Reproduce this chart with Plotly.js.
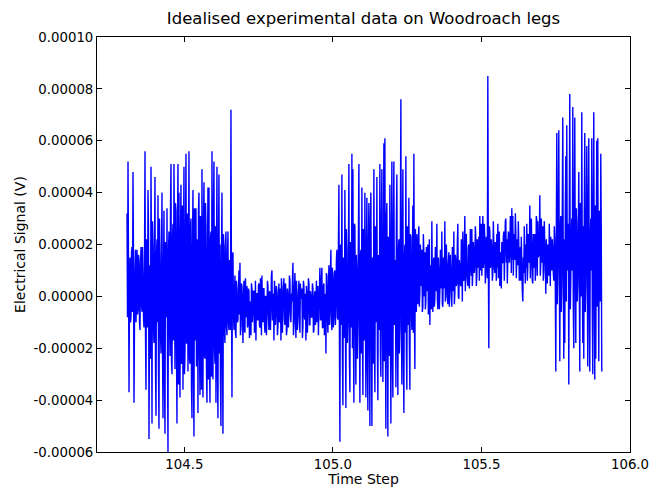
<!DOCTYPE html>
<html>
<head>
<meta charset="utf-8">
<script src="https://cdn.plot.ly/plotly-3.0.1.min.js"></script>
<style>
  html, body { margin: 0; padding: 0; background: #ffffff; }
  #chart { width: 650px; height: 487px; }
</style>
</head>
<body>
<div id="chart"></div>
<script>
// Time range of the recording (time steps, evenly sampled)
const timeStart = 104.307;
const timeEnd = 105.905;

// Electrical signal, in units of 1e-5 V.
// Each segment has its main samples and the samples lying between them.
const signalA = [ // burst 1
  3.2, 5.2, -3.7, 1.5, -0.8, 1.9, 4.8, -4.1, 1.0, -1.0,
  1.8, -0.5, 1.4, -1.3, 1.9, -0.6, 0.8, -1.2, 5.6, -3.6,
  1.5, 4.1, -5.5, 1.2, 5.0, -4.9, 2.0, -1.8, 4.6, -4.6,
  2.2, 3.9, -5.1, 1.5, -2.2, 4.0, -4.7, 3.3, -5.3, 2.0,
  3.4, -6.0, 2.5, -2.3, 5.1, -3.0, 2.8, 5.1, -2.8, 3.3,
  -4.9, 5.1, 4.0, -3.9, 4.3, -2.5, -3.6, 5.0, -2.2, 5.5,
  -1.8, -2.9, 5.6, -2.6, 3.0, -4.7, 4.1, -5.4, 2.8, 3.4,
  -2.5, -4.5, 4.0, -3.8, 2.6, 4.9, -3.9, 4.4, -2.4, 2.7,
  -4.1, 4.2, 4.2, -4.1, 2.5, 5.6, -3.2, 5.2, -2.6, -4.1,
  5.0, -4.7, 4.7, 2.0, -5.0, 4.0, -5.3, 1.9, -1.8, 2.5,
  -1.5, 2.5, -1.3, 1.2, 7.2, -3.9
];
const signalA_between = [
  -0.8, 1.2, 0.4, -1.0, 1.7, -0.6, 1.5, -0.9, 1.8, 0.0,
  -0.7, 1.6, -1.0, 1.2, -0.3, 1.9, -0.8, 1.3, -1.5, 2.2,
  -1.2, 2.6, -0.5, -2.4, 1.1, 2.9, -1.2, 1.8, -2.7, 1.6,
  -1.0, -2.8, 3.0, -1.4, 1.5, -2.0, 0.8, -3.2, 2.1, -0.8,
  -2.3, 1.8, -1.0, 3.4, -2.5, 2.2, -1.7, 1.6, 3.6, -2.1,
  2.5, -3.4, -1.6, 2.4, -2.6, 3.5, 1.9, -3.0, 2.4, -1.8,
  3.2, 1.5, -2.4, 2.7, -3.5, 2.0, -2.9, 3.4, -1.7, -2.7,
  2.2, 3.3, -2.0, 3.1, -3.6, -1.6, 2.8, -2.3, 3.6, -2.9,
  1.8, -3.2, -2.5, 2.2, -3.1, -1.6, 3.4, -2.0, 2.7, 1.6,
  -3.0, 2.0, -2.2, -3.4, 1.5, -2.1, 2.4, -1.4, 1.9, -1.2,
  1.6, -1.0, 1.4, -1.3, 0.5, 1.5
];
const signalB = [ // quiet stretch
  1.7, -1.3, 0.8, -1.6, 0.3, -0.9, 1.0, 1.3, -1.2, 0.4,
  -1.8, 0.6, -1.4, -0.2, 0.4, -1.1, 0.2, -0.8, -1.5, 0.3,
  -0.6, 0.2, -1.3, -1.7, 0.1, -0.9, 0.5, -1.2, -0.3, 0.8,
  -1.0, 0.3, -1.4, 0.0, -0.7, 0.4, -1.3, 0.1, -0.5, 1.0,
  -0.9, -1.7, 0.3, -0.6, 0.2, -1.2, 0.5, -0.8, -1.7, 0.4,
  -0.4, 0.7, -1.1, 0.2, -1.3, 0.0, -0.6, 0.6, -1.0, -0.2,
  1.3, -1.1, 0.9, -1.6, 0.2, -0.7, 0.6, -1.4, -0.1, 0.3,
  -1.2, 0.4, -0.9, -1.7, 0.1, -0.5, 0.5, -1.1, 0.0, -0.8,
  0.3, -1.3, 0.2, -0.6, -1.0, 0.4, -0.4, 1.1, -0.9, 1.1,
  -1.2, 0.5, -0.3, -2.2, 0.8, -1.4, 1.2, -0.6
];
const signalB_between = [
  -0.6, 0.2, -1.4, 0.6, -1.0, 0.1, -0.7, -1.5, 0.5, -0.9,
  0.0, -1.3, 0.7, -0.8, -1.2, 0.3, -1.6, -0.2, 0.5, -1.0,
  0.2, -1.4, 0.6, 0.1, -0.9, 0.4, -1.1, 0.7, -1.5, -0.6,
  0.3, -1.0, 0.0, -1.5, 0.6, -0.8, 0.2, -1.3, 0.8, -0.9,
  0.1, 0.6, -1.1, 0.4, -1.5, 0.0, -1.0, 0.3, 0.7, -1.4,
  0.2, -0.9, 0.5, -1.5, 0.3, -1.2, 0.8, -0.7, 0.1, 0.6,
  -1.5, 0.3, -0.9, 0.6, -1.3, 0.0, -1.0, 0.5, 0.2, -1.6,
  0.6, -0.8, 0.1, 0.4, -1.4, 0.7, -1.1, 0.2, -0.8, 0.5,
  -1.4, 0.0, -1.1, 0.6, 0.3, -1.5, 0.2, -0.9, 0.7, -1.2,
  0.4, -1.5, 0.1, 0.9, -0.8, 0.3, -1.1, 1.0
];
const signalC = [ // burst 2
  1.8, -1.3, 0.7, -0.8, 1.0, -0.4, 1.8, -0.9, 4.3, -5.6,
  1.6, 4.7, -4.2, 1.2, 4.1, -4.3, 1.8, -1.0, 5.1, -3.7,
  1.5, 5.5, 4.9, -4.1, 2.7, -3.4, 1.0, -1.2, 5.1, -4.1,
  1.8, 4.2, -3.8, 1.0, 4.0, -3.9, 3.8, -4.4, 3.6, -5.0,
  4.0, -5.0, 1.5, 4.9, -3.7, 2.0, 4.6, -4.0, 0.8, 5.1,
  -3.1, 4.9, -3.3, 5.9, 6.1, -5.1, 3.6, -5.4, 1.9, 4.3,
  -4.9, 5.2, -3.9, 5.2, -1.0, -3.5, 4.7, -3.8, 2.2, -1.2,
  7.6, -3.4, 4.9, -4.5, 2.0, 5.4, -3.6, 1.4, 3.8, -3.6,
  2.3, -1.3, 3.5, 5.5, -2.8, 1.7, 2.4, -0.3, 2.7, 0.2,
  1.3, 1.8, -0.4, 1.6, 1.7, -0.2, 1.2, 2.0, 0.4, -1.1,
  1.0, 2.9
];
const signalC_between = [
  -1.0, 1.1, -1.2, 0.9, -1.1, 1.4, -0.8, 1.8, -1.4, 2.0,
  -1.1, -2.3, 1.5, -1.6, -0.9, 2.6, -1.8, 1.2, -2.4, 2.1,
  -1.2, -2.0, -1.5, 2.8, -1.0, 1.6, -2.4, 2.2, -1.0, 1.5,
  -2.2, -1.1, 2.6, -1.7, -0.8, 1.7, -2.5, 2.1, -1.2, 2.9,
  -1.0, 1.4, -2.6, -1.5, 2.7, -1.0, -2.0, 1.6, -1.3, -2.2,
  2.9, -1.0, 1.7, -2.5, -1.4, 3.0, -1.2, 2.3, -2.3, -1.0,
  1.9, -2.4, 2.6, -1.1, 1.4, 2.9, -1.7, 1.8, -2.2, 2.6,
  -1.0, 2.0, -2.3, 1.5, -1.4, -2.1, 2.7, -1.1, -1.8, 2.4,
  -0.6, 1.6, -1.4, -0.4, 2.6, -0.6, 0.3, 2.2, -0.4, 2.0,
  0.4, -0.6, 2.4, 0.0, -0.5, 1.9, 0.2, -0.7, 2.2, 1.2,
  -0.5, 0.3
];
const signalD = [ // drifting stretch
  -0.6, 1.5, -0.1, 1.2, 2.8, -0.5, 0.9, 0.2, 1.6, 2.5,
  -0.4, 1.1, 2.9, 0.0, 1.3, -0.3, 1.7, 0.3, 1.0, -0.4,
  1.2, 2.5, 0.1, 1.4, 0.5, 2.8, -0.1, 1.1, 0.4, 1.6,
  2.5, 0.6, 3.1, 1.2, 0.9, 0.4, 2.0, 1.0, 1.7, 2.6,
  0.9, 1.8, 1.2, 2.2, 0.8, 1.6, 2.3, 3.1, 1.1, 0.8,
  3.1, 1.4, 2.2, 1.0, 1.7, 8.5, -2.0, 2.5, 1.2, 1.8,
  0.9, 2.0, 0.9, 1.5, 2.4, 2.8, 1.1, 0.4, 1.6, 2.1,
  1.3, 2.5, 1.8, 3.0, 2.2, 1.5, 2.4, 1.6, 2.6, 3.4,
  3.1, 1.9, 1.4, 2.5, 1.7, 1.2, 2.0, 1.0, 0.6, 1.3,
  -0.2, 0.9, 1.5, 2.0, 2.8, 1.1, 2.3, 3.5, 1.4, 2.0,
  0.5, 1.8, 2.4, 1.2, 2.9, 2.9, 1.6, 3.9, 1.3, 2.2,
  2.7, 1.0, 2.0, 0.1, 1.4, 2.0, 0.8, 1.6, 2.3, 1.0,
  1.8, 0.6, 2.2
];
const signalD_between = [
  1.3, -0.4, 1.9, 0.2, -0.1, 1.5, -0.5, 1.8, 0.3, -0.3,
  1.5, 0.3, -0.2, 2.0, 0.1, 1.3, -0.4, 1.6, 0.0, 1.9,
  0.2, -0.3, 1.6, 0.4, 2.1, 0.0, 1.4, 0.5, 2.2, -0.2,
  0.7, 1.8, 0.2, 2.4, 0.6, 1.9, 0.3, 2.6, 0.8, 0.4,
  2.1, 0.9, 2.7, 0.4, 2.2, 1.1, 0.6, 1.0, 2.8, 2.2,
  1.1, 2.8, 0.5, 2.3, 0.7, 1.5, 2.7, 1.1, 2.2, 0.6,
  2.9, 1.1, 2.1, 0.6, 1.1, 0.7, 2.5, 1.7, 0.3, 1.3,
  2.3, 0.6, 2.9, 1.3, 0.5, 2.5, 1.3, 3.1, 0.9, 1.4,
  0.8, 2.4, 3.2, 0.7, 2.2, 2.9, 0.6, 1.9, 2.3, 0.2,
  1.5, 2.7, 0.5, 1.1, 0.6, 2.4, 1.3, 0.7, 3.0, 0.6,
  2.4, 1.1, 0.6, 3.1, 0.8, 1.5, 2.3, 0.8, 3.0, 1.3,
  0.6, 2.9, 1.3, 2.2, 0.5, 1.2, 2.8, 0.4, 1.1, 2.2,
  0.9, 2.7, 0.4
];
const signalE = [ // burst 3
  -2.9, 6.3, 0.8, 6.4, -2.5, 3.1, 0.5, 6.9, -2.4, -1.8,
  5.4, 6.6, 1.0, -3.4, 7.8, 0.6, 3.0, 7.3, -2.0, 6.9,
  -1.8, 2.8, 0.5, 4.8, -2.9, 3.2, 7.1, -1.8, -2.4, 6.3,
  0.4, 5.8, -2.7, 6.1, -2.9, 3.0, 6.1, -3.0, 7.1, -3.2,
  -2.4, 6.0, 6.1, -2.5, 2.8, 5.5, -2.9
];
const signalE_between = [
  2.4, -0.3, 3.4, 1.0, 2.6, -0.6, 3.5, 0.8, 2.2, 3.3,
  -0.2, 1.2, 2.8, 3.5, -0.5, 2.4, 1.0, -0.4, 3.0, 0.9,
  3.4, -0.2, 2.5, 0.6, 3.6, 0.0, 1.1, 2.7, 3.3, -0.6,
  2.6, 0.8, 3.4, -0.3, 2.3, 1.0, -0.5, 3.1, 0.6, 3.5,
  2.2, -0.4, 1.0, 3.3, -0.2, 2.5
];

const signalScale = 1e-5; // units of the arrays above, in volts

const xTickVals = [104.5, 105.0, 105.5, 106.0];
const xTickLabels = ['104.5', '105.0', '105.5', '106.0'];
const yTickVals = [-0.00006, -0.00004, -0.00002, 0, 0.00002, 0.00004, 0.00006, 0.00008, 0.00010];
const yTickLabels = ['-0.00006', '-0.00004', '-0.00002', '0.00000', '0.00002', '0.00004', '0.00006', '0.00008', '0.00010'];

// Merge main samples with the samples between them, in time order
const segments = [
  [signalA, signalA_between], [signalB, signalB_between], [signalC, signalC_between],
  [signalD, signalD_between], [signalE, signalE_between]
];
const signal = [];
segments.forEach(([main, between]) => {
  main.forEach((v, i) => {
    signal.push(v);
    if (i < between.length) signal.push(between[i]);
  });
});
const n = signal.length;
const dt = (timeEnd - timeStart) / (n - 1);
const xs = signal.map((v, i) => timeStart + i * dt);
const ys = signal.map(v => v * signalScale);

const FONT = 'DejaVu Sans, sans-serif';

const trace = {
  type: 'scatter',
  mode: 'lines',
  x: xs,
  y: ys,
  line: { color: '#0000ff', width: 1.4, simplify: false },
  hoverinfo: 'skip'
};

const axisCommon = {
  showgrid: false,
  zeroline: false,
  showline: true,
  linecolor: '#000000',
  linewidth: 1,
  mirror: 'allticks',
  ticks: 'inside',
  ticklen: 5,
  tickwidth: 1,
  tickcolor: '#000000',
  tickmode: 'array',
  tickfont: { family: FONT, size: 13.3, color: '#000000' },
  automargin: false
};

const layout = {
  width: 650,
  height: 487,
  margin: { l: 97, r: 20, t: 37, b: 35 },
  paper_bgcolor: '#ffffff',
  plot_bgcolor: '#ffffff',
  showlegend: false,
  font: { family: FONT, color: '#000000' },
  title: {
    text: 'Idealised experimental data on Woodroach legs',
    font: { family: FONT, size: 16.5, color: '#000000' },
    x: 0.5, xref: 'paper',
    y: 1 - 18 / 487, yref: 'container', yanchor: 'middle'
  },
  xaxis: Object.assign({}, axisCommon, {
    range: [104.206, 106.0],
    tickvals: xTickVals,
    ticktext: xTickLabels,
    title: { text: 'Time Step', font: { family: FONT, size: 14, color: '#000000' }, standoff: 1 }
  }),
  yaxis: Object.assign({}, axisCommon, {
    range: [-0.00006, 0.00010],
    tickvals: yTickVals,
    ticktext: yTickLabels,
    title: { text: 'Electrical Signal (V)', font: { family: FONT, size: 14, color: '#000000' }, standoff: 4 }
  })
};

Plotly.newPlot('chart', [trace], layout, { staticPlot: true, displayModeBar: false });
</script>
</body>
</html>
